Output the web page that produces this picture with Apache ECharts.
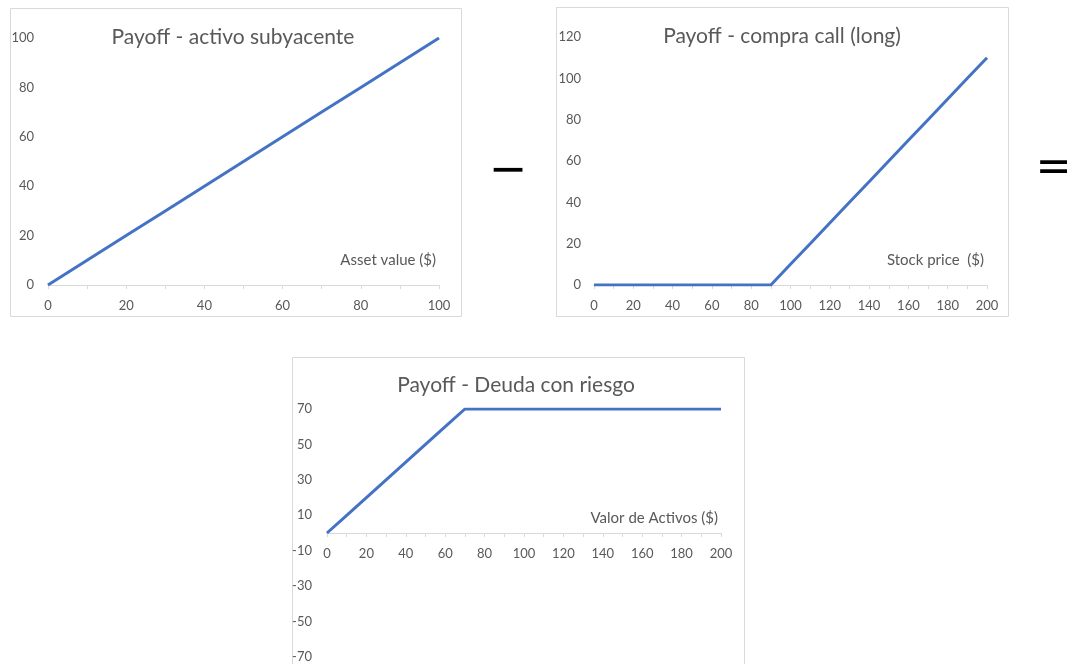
<!DOCTYPE html>
<html>
<head>
<meta charset="utf-8">
<title>Payoff</title>
<script src="https://cdn.jsdelivr.net/npm/echarts@6/dist/echarts.min.js"></script>
<style>
  html, body { margin: 0; padding: 0; background: #fff; }
  #main { width: 1067px; height: 664px; }
</style>
</head>
<body>
<div id="main"></div>
<script>
  // datos
  var assetX = [0, 10, 20, 30, 40, 50, 60, 70, 80, 90, 100];
  var assetY = [0, 10, 20, 30, 40, 50, 60, 70, 80, 90, 100];

  var callX = [0, 10, 20, 30, 40, 50, 60, 70, 80, 90, 100, 110, 120, 130, 140, 150, 160, 170, 180, 190, 200];
  var callY = [0, 0, 0, 0, 0, 0, 0, 0, 0, 0, 10, 20, 30, 40, 50, 60, 70, 80, 90, 100, 110];

  var debtX = [0, 10, 20, 30, 40, 50, 60, 70, 80, 90, 100, 110, 120, 130, 140, 150, 160, 170, 180, 190, 200];
  var debtY = [0, 10, 20, 30, 40, 50, 60, 70, 70, 70, 70, 70, 70, 70, 70, 70, 70, 70, 70, 70, 70];

  var titles = ['Payoff - activo subyacente', 'Payoff - compra call (long)', 'Payoff - Deuda con riesgo'];
  var axisNames = ['Asset value ($)', 'Stock price  ($)', 'Valor de Activos ($)'];

  var FONT = 'Lato, "Open Sans", sans-serif';
  var TXT = '#595959';
  var LINE = '#4472C4';
  var AXIS = '#d9d9d9';

  function zip(xs, ys) {
    return xs.map(function (x, i) { return [x, ys[i]]; });
  }

  // eje x: ticks cada 10, etiquetas cada 20
  function xAxis(gridIndex, max, offset) {
    return {
      type: 'value', gridIndex: gridIndex, min: 0, max: max, interval: 10,
      offset: offset || 0,
      axisLine: { show: true, onZero: false, lineStyle: { color: AXIS, width: 1 } },
      axisTick: { show: true, length: 4, lineStyle: { color: AXIS } },
      axisLabel: {
        color: TXT, fontFamily: FONT, fontSize: 13, margin: 14,
        formatter: function (v) { return v % 20 === 0 ? String(v) : ''; }
      },
      splitLine: { show: false }
    };
  }

  function yAxis(gridIndex, min, max, interval, margin) {
    return {
      type: 'value', gridIndex: gridIndex, min: min, max: max, interval: interval,
      axisLine: { show: false }, axisTick: { show: false },
      axisLabel: { color: TXT, fontFamily: FONT, fontSize: 13, margin: margin },
      splitLine: { show: false }
    };
  }

  function series(i, data) {
    return {
      type: 'line', xAxisIndex: i, yAxisIndex: i, data: data,
      showSymbol: false, symbol: 'none',
      lineStyle: { color: LINE, width: 3 }, silent: true
    };
  }

  function frame(x, y, w, h) {
    return { type: 'rect', shape: { x: x, y: y, width: w, height: h }, style: { fill: 'none', stroke: AXIS, lineWidth: 1 }, z: -1 };
  }

  function label(text, x, y, size, align) {
    return { type: 'text', x: x, y: y, style: { text: text, fill: TXT, font: size + 'px ' + FONT, align: align, verticalAlign: 'middle' } };
  }

  var option = {
    animation: false,
    backgroundColor: '#fff',
    grid: [
      { left: 48, top: 38, width: 391, height: 247, outerBoundsMode: 'none', containLabel: false },
      { left: 594, top: 37, width: 393, height: 248, outerBoundsMode: 'none', containLabel: false },
      { left: 327, top: 409, width: 394, height: 248, outerBoundsMode: 'none', containLabel: false }
    ],
    xAxis: [
      xAxis(0, 100),
      xAxis(1, 200),
      // el eje cruza en y = 0 (mitad de la rejilla de -70 a 70)
      xAxis(2, 200, -124)
    ],
    yAxis: [
      yAxis(0, 0, 100, 20, 14),
      yAxis(1, 0, 120, 20, 13),
      yAxis(2, -70, 70, 20, 15)
    ],
    series: [
      series(0, zip(assetX, assetY)),
      series(1, zip(callX, callY)),
      series(2, zip(debtX, debtY))
    ],
    graphic: [
      frame(10.5, 8.5, 451, 308),
      frame(556.5, 7.5, 452, 309),
      frame(292.5, 357.5, 452, 330),
      label(titles[0], 233, 37, 21, 'center'),
      label(titles[1], 782, 36, 21, 'center'),
      label(titles[2], 516, 385, 21, 'center'),
      label(axisNames[0], 436, 260, 15, 'right'),
      label(axisNames[1], 984, 260, 15, 'right'),
      label(axisNames[2], 718, 518, 15, 'right'),
      { type: 'text', x: 508, y: 172, style: { text: '\u2212', fill: '#000', font: '46px "DejaVu Sans"', align: 'center', verticalAlign: 'middle' } },
      { type: 'text', x: 1054, y: 170, style: { text: '=', fill: '#000', font: '44px "DejaVu Sans"', align: 'center', verticalAlign: 'middle' } }
    ]
  };

  var myChart = echarts.init(document.getElementById('main'));
  myChart.setOption(option);
  window.addEventListener('resize', function () { myChart.resize(); });
</script>
</body>
</html>
